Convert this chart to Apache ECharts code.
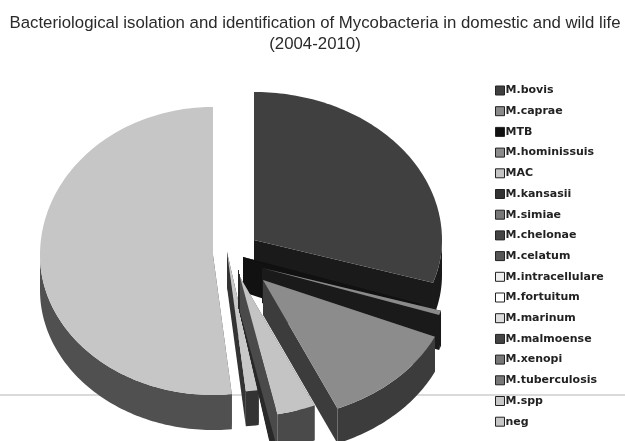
<!DOCTYPE html>
<html>
<head>
<meta charset="utf-8">
<style>html,body{margin:0;padding:0;background:#fff}#main{width:625px;height:441px}</style>
<script src="https://cdn.jsdelivr.net/npm/echarts@6/dist/echarts.min.js"></script>
</head>
<body>
<div id="main"></div>
<script>
// data
var categories = ['M.bovis', 'M.caprae', 'MTB', 'M.hominissuis', 'MAC', 'M.kansasii', 'M.simiae', 'M.chelonae', 'M.celatum', 'M.intracellulare', 'M.fortuitum', 'M.marinum', 'M.malmoense', 'M.xenopi', 'M.tuberculosis', 'M.spp', 'neg'];
var values = [300, 5, 12, 119, 33, 0.5, 0.5, 0.5, 0.5, 0.5, 0.5, 0.5, 0.5, 0.5, 0.5, 11, 517];

// look of each slice: top face, side wall, legend swatch
var faceColors = ['#404040', '#8a8a8a', '#111111', '#8c8c8c', '#c4c4c4', '#333333', '#777777', '#444444', '#555555', '#eeeeee', '#ffffff', '#dddddd', '#444444', '#777777', '#777777', '#c8c8c8', '#c6c6c6'];
var wallColors = ['#1a1a1a', '#1a1a1a', '#111111', '#3c3c3c', '#4a4a4a', '#2a2a2a', '#2a2a2a', '#2a2a2a', '#2a2a2a', '#2a2a2a', '#2a2a2a', '#2a2a2a', '#2a2a2a', '#2a2a2a', '#2a2a2a', '#333333', '#505050'];
// how far each slice is pulled out of the pie, in px from the pie centre
var pullX = [19, 27, 8, 28, 5, 3, 3, 3, 3, 3, 3, 3, 3, 3, 3, -8, -22];
var pullY = [-14, 14, 3, 26, 23, 16, 16, 16, 16, 16, 16, 16, 16, 16, 16, -2, 1];
// painting order, back to front
var drawOrder = [16, 0, 2, 1, 3, 15, 14, 13, 12, 11, 10, 9, 8, 7, 6, 5, 4];

var pieX = 235, pieY = 254, depth = 35;
var rxRight = 188, rxLeft = 173, ryBack = 148, ryFront = 140;

var total = values.reduce(function (a, b) { return a + b; }, 0);
var cum = [0];
for (var i = 0; i < values.length; i++) {
	cum.push(cum[i] + values[i]);
}

function angleOf(v) {
	return echarts.number.linearMap(v, [0, total], [0, Math.PI * 2]);
}

function rimPoint(t, cx, cy) {
	var s = Math.sin(t), c = Math.cos(t);
	return [cx + s * (s >= 0 ? rxRight : rxLeft), cy - c * (c >= 0 ? ryBack : ryFront)];
}

function rimPoints(t0, t1, cx, cy) {
	var steps = Math.max(2, Math.ceil((t1 - t0) / 0.02));
	var pts = [];
	for (var k = 0; k <= steps; k++) {
		pts.push(rimPoint(t0 + (t1 - t0) * k / steps, cx, cy));
	}
	return pts;
}

function renderSlice(params, api) {
	var idx = params.seriesIndex;
	var t0 = angleOf(cum[idx]);
	var t1 = angleOf(cum[idx] + api.value(0));
	var cx = pieX + pullX[idx], cy = pieY + pullY[idx];
	var rim = rimPoints(t0, t1, cx, cy);
	var first = rim[0], last = rim[rim.length - 1];
	var low = function (p) { return [p[0], p[1] + depth]; };
	var wallStyle = { fill: wallColors[idx] };
	var children = [
		{ type: 'polygon', shape: { points: [[cx, cy], first, low(first), [cx, cy + depth]] }, style: wallStyle },
		{ type: 'polygon', shape: { points: [[cx, cy], last, low(last), [cx, cy + depth]] }, style: wallStyle }
	];
	// only the front half of the rim shows a wall
	var a = Math.max(t0, Math.PI / 2), b = Math.min(t1, Math.PI * 1.5);
	if (b > a) {
		var front = rimPoints(a, b, cx, cy);
		children.push({ type: 'polygon', shape: { points: front.concat(front.slice().reverse().map(low)) }, style: wallStyle });
	}
	children.push({ type: 'polygon', shape: { points: [[cx, cy]].concat(rim) }, style: { fill: faceColors[idx] } });
	return { type: 'group', children: children };
}

var series = categories.map(function (name, i) {
	return {
		type: 'custom',
		name: name,
		coordinateSystem: 'none',
		z: 2 + drawOrder.indexOf(i),
		silent: true,
		itemStyle: { color: faceColors[i] },
		renderItem: renderSlice,
		data: [[values[i]]]
	};
});

var chart = echarts.init(document.getElementById('main'));
chart.setOption({
	animation: false,
	title: {
		text: 'Bacteriological isolation and identification of Mycobacteria in domestic and wild life\n(2004-2010)',
		left: 310,
		top: 8,
		textAlign: 'center',
		textStyle: { fontFamily: 'Liberation Sans', fontSize: 16.8, fontWeight: 'normal', color: '#2a2a2a', lineHeight: 21 }
	},
	legend: {
		orient: 'vertical',
		left: 490,
		top: 80,
		height: 355,
		itemWidth: 9,
		itemHeight: 9,
		itemGap: 9.7,
		icon: 'rect',
		selectedMode: false,
		data: categories,
		itemStyle: { borderColor: '#222222', borderWidth: 1 },
		textStyle: { fontFamily: 'DejaVu Sans', fontSize: 11, fontWeight: 'bold', color: '#222222', padding: [0, 0, 0, -4], height: 12 }
	},
	graphic: [{
		type: 'line',
		z: 0,
		shape: { x1: 0, y1: 395, x2: 625, y2: 395 },
		style: { stroke: '#b5b5b5', lineWidth: 1 }
	}],
	series: series
});
</script>
</body>
</html>
